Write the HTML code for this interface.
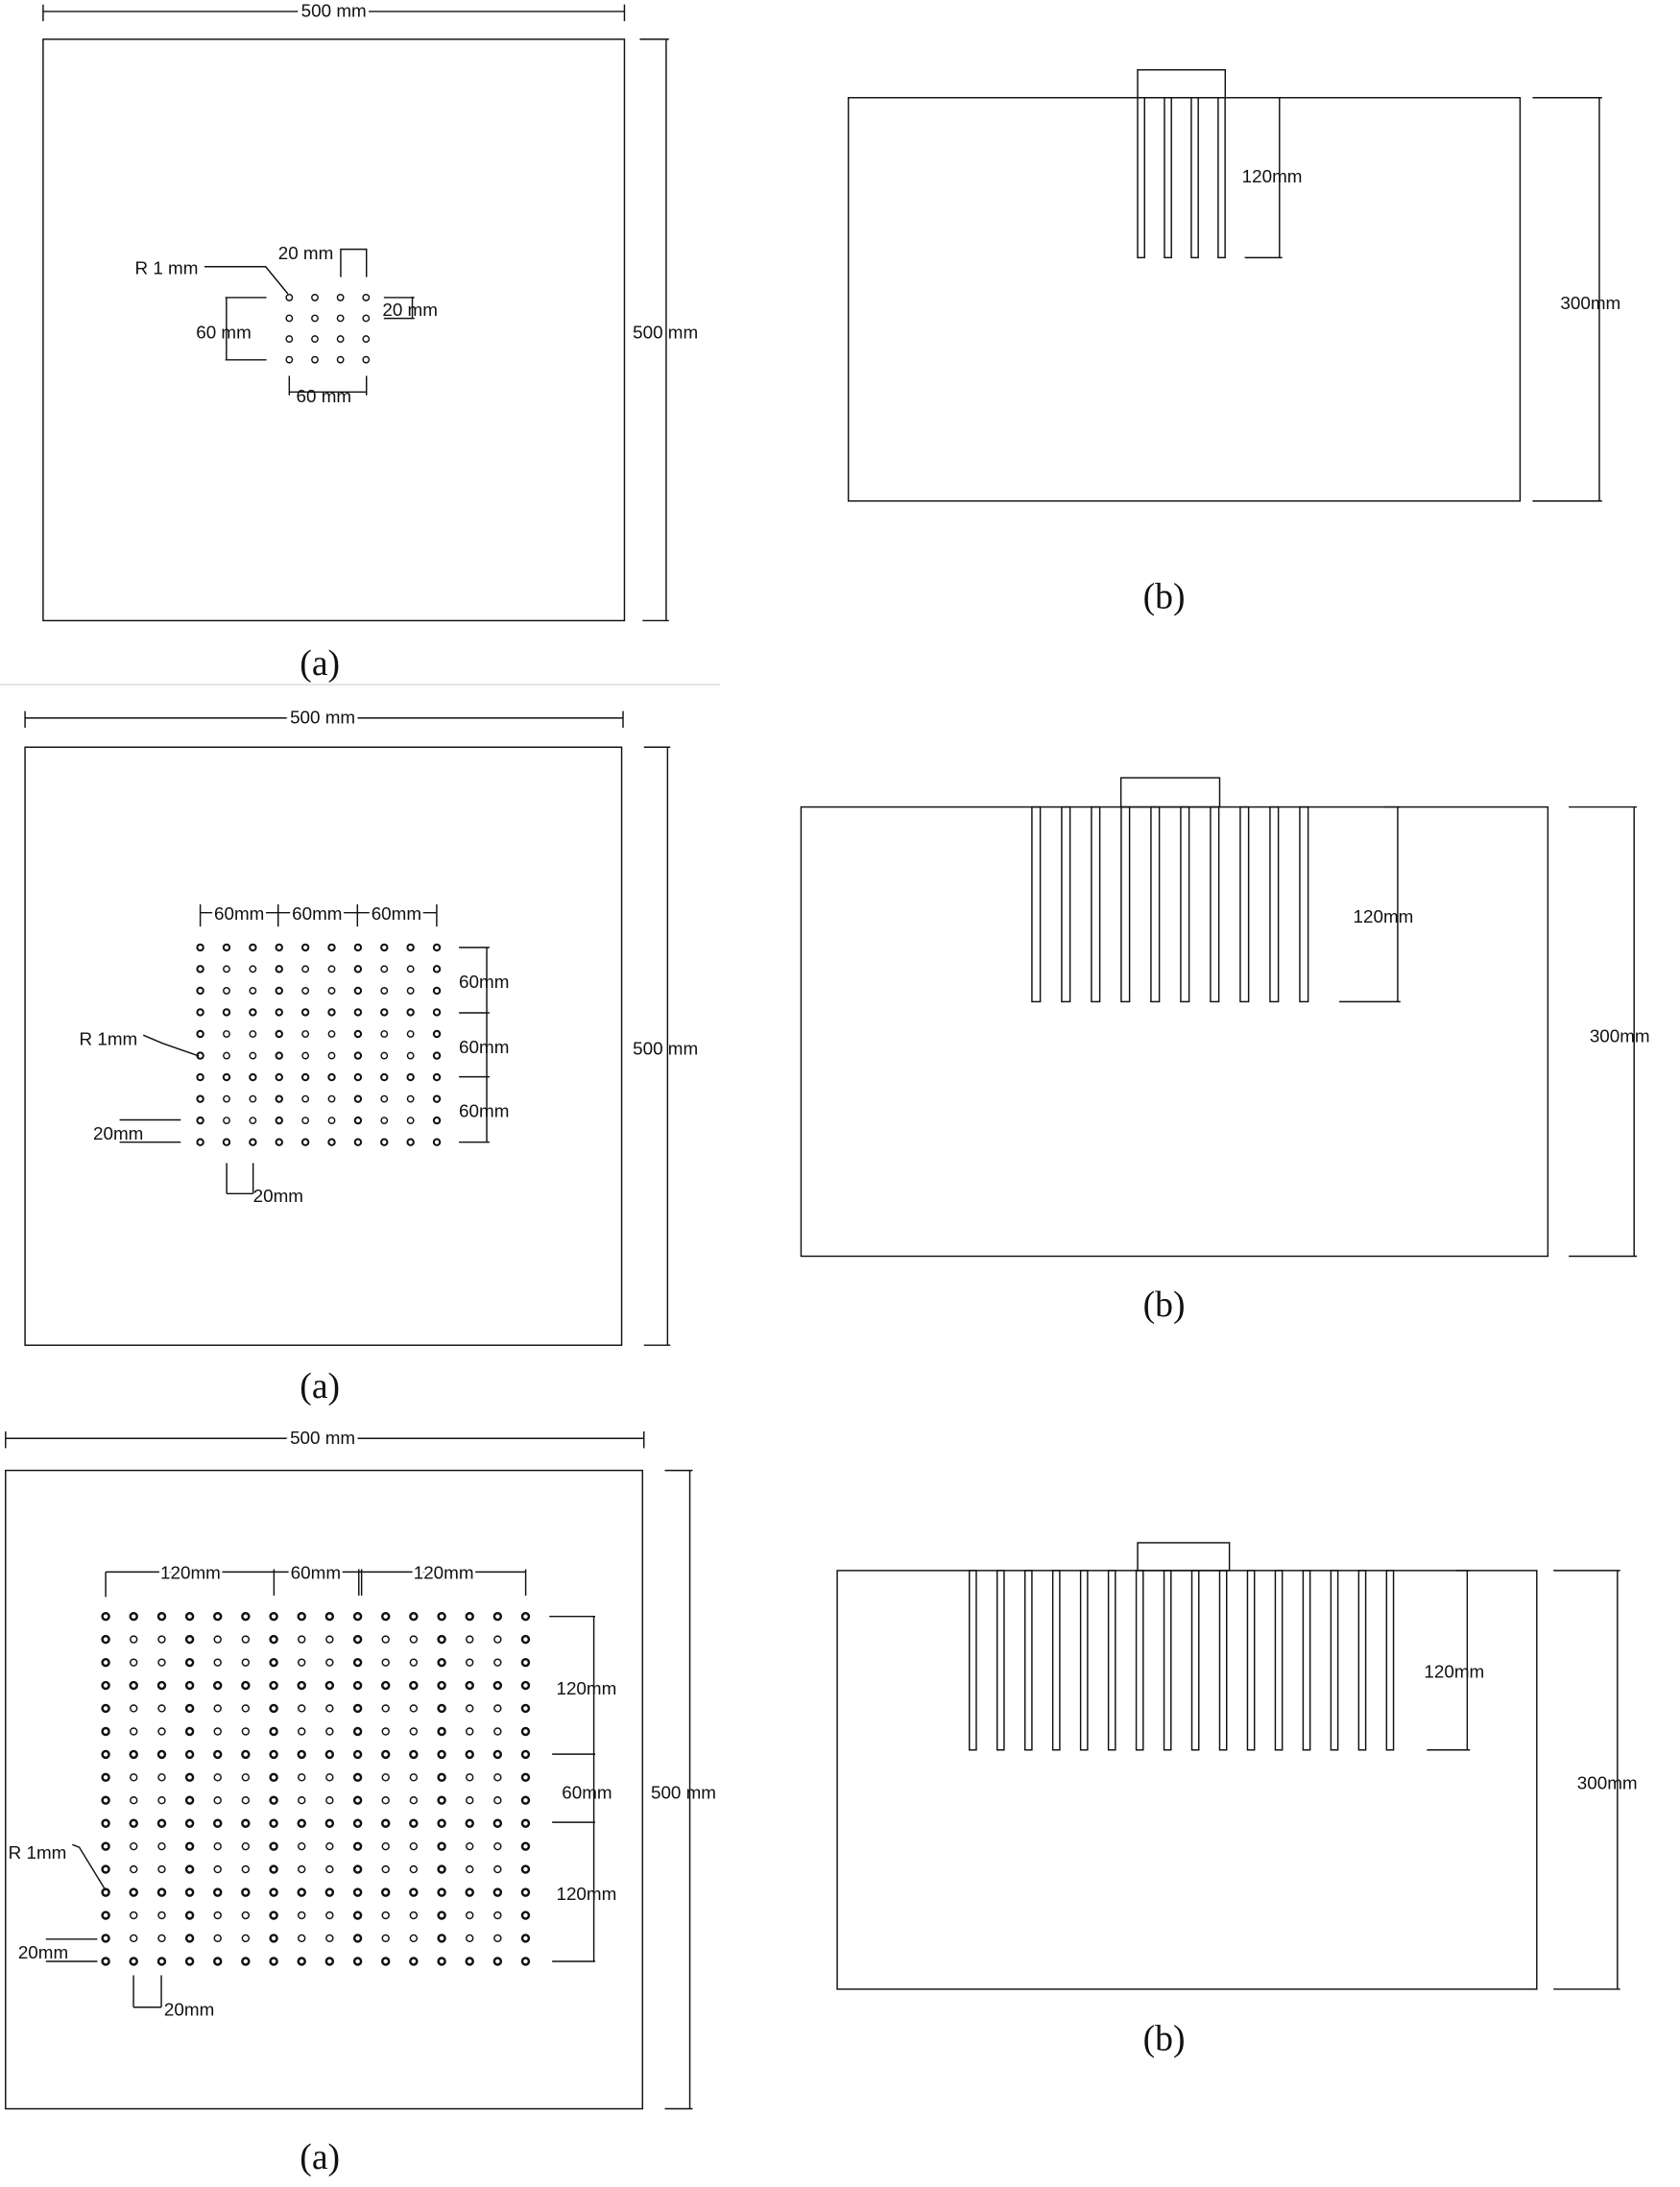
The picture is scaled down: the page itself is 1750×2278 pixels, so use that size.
<!DOCTYPE html>
<html><head><meta charset="utf-8"><style>
html,body{margin:0;padding:0;background:#fff;}
svg{display:block;}
text{font-family:"Liberation Sans",Arial,sans-serif;font-size:13px;fill:#111;}
.cap{font-family:"Liberation Serif",serif;font-size:26px;}
</style></head><body>
<svg id="s" width="1750" height="2278" viewBox="0 0 1208 1572" xmlns="http://www.w3.org/2000/svg">
<g stroke="#111" stroke-width="1" fill="none">
<!-- Panel 1a -->
<line x1="31" y1="8" x2="449" y2="8"/><line x1="31" y1="3" x2="31" y2="15"/><line x1="449" y1="3" x2="449" y2="15"/>
<rect x="31" y="28" width="418" height="418"/>
<line x1="479" y1="28" x2="479" y2="446"/><line x1="460" y1="28" x2="481" y2="28"/><line x1="462" y1="446" x2="481" y2="446"/>
<polyline points="147,191.5 191,191.5 207,211"/>
<polyline points="245,199 245,179 263.5,179 263.5,199"/>
<line x1="276" y1="213.7" x2="298" y2="213.7"/><line x1="276" y1="228.7" x2="298" y2="228.7"/><line x1="296.5" y1="213" x2="296.5" y2="229"/>
<line x1="162.8" y1="213.7" x2="162.8" y2="258.5"/><line x1="162" y1="213.7" x2="191.6" y2="213.7"/><line x1="162" y1="258.5" x2="191.6" y2="258.5"/>
<line x1="208" y1="270" x2="208" y2="284"/><line x1="263.5" y1="270" x2="263.5" y2="284"/><line x1="208" y1="281.6" x2="263.5" y2="281.6"/>
<!-- Panel 1b -->
<rect x="610" y="70" width="483" height="290"/>
<rect x="818" y="50" width="63" height="20"/>
<line x1="920" y1="70" x2="920" y2="185"/><line x1="895" y1="185" x2="922" y2="185"/><line x1="912" y1="70" x2="922" y2="70"/>
<line x1="1150" y1="70" x2="1150" y2="360"/><line x1="1102" y1="70" x2="1152" y2="70"/><line x1="1102" y1="360" x2="1152" y2="360"/>
<!-- Panel 2a -->
<line x1="0" y1="492" x2="518" y2="492" stroke="#ddd"/>
<line x1="18" y1="516" x2="448" y2="516"/><line x1="18" y1="511" x2="18" y2="523"/><line x1="448" y1="511" x2="448" y2="523"/>
<rect x="18" y="537" width="429" height="430"/>
<line x1="480" y1="537" x2="480" y2="967"/><line x1="463" y1="537" x2="482" y2="537"/><line x1="463" y1="967" x2="482" y2="967"/>
<line x1="144" y1="656" x2="314" y2="656"/>
<line x1="144" y1="650" x2="144" y2="666"/><line x1="200" y1="650" x2="200" y2="666"/><line x1="257" y1="650" x2="257" y2="666"/><line x1="314" y1="650" x2="314" y2="666"/>
<line x1="350" y1="681" x2="350" y2="821"/>
<line x1="330" y1="681" x2="352" y2="681"/><line x1="330" y1="728" x2="352" y2="728"/><line x1="330" y1="774" x2="352" y2="774"/><line x1="330" y1="821" x2="352" y2="821"/>
<polyline points="103,744 117,750 143,759"/>
<line x1="86" y1="805" x2="130" y2="805"/><line x1="86" y1="821" x2="130" y2="821"/>
<line x1="163" y1="836" x2="163" y2="858"/><line x1="182" y1="836" x2="182" y2="858"/><line x1="163" y1="858" x2="182" y2="858"/>
<!-- Panel 2b -->
<rect x="576" y="580" width="537" height="323"/>
<rect x="806" y="559" width="71" height="21"/>
<line x1="1005" y1="580" x2="1005" y2="720"/><line x1="963" y1="720" x2="1007" y2="720"/><line x1="995" y1="580" x2="1007" y2="580"/>
<line x1="1175" y1="580" x2="1175" y2="903"/><line x1="1128" y1="580" x2="1177" y2="580"/><line x1="1128" y1="903" x2="1177" y2="903"/>
<!-- Panel 3a -->
<line x1="4" y1="1034" x2="463" y2="1034"/><line x1="4" y1="1029" x2="4" y2="1041"/><line x1="463" y1="1029" x2="463" y2="1041"/>
<rect x="4" y="1057" width="458" height="459"/>
<line x1="496" y1="1057" x2="496" y2="1516"/><line x1="478" y1="1057" x2="498" y2="1057"/><line x1="478" y1="1516" x2="498" y2="1516"/>
<line x1="76" y1="1130" x2="378" y2="1130"/>
<line x1="76" y1="1130" x2="76" y2="1148"/><line x1="197" y1="1128" x2="197" y2="1147"/><line x1="258" y1="1128" x2="258" y2="1147"/><line x1="260" y1="1128" x2="260" y2="1147"/><line x1="378" y1="1128" x2="378" y2="1147"/>
<line x1="427" y1="1162" x2="427" y2="1410"/>
<line x1="395" y1="1162" x2="428" y2="1162"/><line x1="397" y1="1261" x2="428" y2="1261"/><line x1="397" y1="1310" x2="428" y2="1310"/><line x1="397" y1="1410" x2="428" y2="1410"/>
<polyline points="52,1326 57,1328 76,1359"/>
<line x1="33" y1="1394" x2="70" y2="1394"/><line x1="33" y1="1410" x2="70" y2="1410"/>
<line x1="96" y1="1420" x2="96" y2="1443"/><line x1="116" y1="1420" x2="116" y2="1443"/><line x1="96" y1="1443" x2="116" y2="1443"/>
<!-- Panel 3b -->
<rect x="602" y="1129" width="503" height="301"/>
<rect x="818" y="1109" width="66" height="20"/>
<line x1="1055" y1="1129" x2="1055" y2="1258"/><line x1="1026" y1="1258" x2="1057" y2="1258"/><line x1="1047" y1="1129" x2="1057" y2="1129"/>
<line x1="1163" y1="1129" x2="1163" y2="1430"/><line x1="1117" y1="1129" x2="1165" y2="1129"/><line x1="1117" y1="1430" x2="1165" y2="1430"/>
<g id="dyn"></g>
</g>
<g>
<text x="240" y="12" text-anchor="middle" style="paint-order:stroke" stroke="#fff" stroke-width="5">500 mm</text>
<text x="455" y="243">500 mm</text>
<text class="cap" x="230" y="485" text-anchor="middle">(a)</text>
<text x="97" y="197">R 1 mm</text>
<text x="200" y="186">20 mm</text>
<text x="275" y="227">20 mm</text>
<text x="141" y="243">60 mm</text>
<text x="213" y="289">60 mm</text>
<text x="893" y="131">120mm</text>
<text x="1122" y="222">300mm</text>
<text class="cap" x="837" y="437" text-anchor="middle">(b)</text>

<text x="232" y="520" text-anchor="middle" style="paint-order:stroke" stroke="#fff" stroke-width="5">500 mm</text>
<text x="455" y="758">500 mm</text>
<text class="cap" x="230" y="1005" text-anchor="middle">(a)</text>
<g style="paint-order:stroke" stroke="#fff" stroke-width="4">
<text x="172" y="661" text-anchor="middle">60mm</text>
<text x="228" y="661" text-anchor="middle">60mm</text>
<text x="285" y="661" text-anchor="middle">60mm</text>
</g>
<text x="330" y="710">60mm</text>
<text x="330" y="757">60mm</text>
<text x="330" y="803">60mm</text>
<text x="57" y="751">R 1mm</text>
<text x="67" y="819">20mm</text>
<text x="182" y="864">20mm</text>
<text x="973" y="663">120mm</text>
<text x="1143" y="749">300mm</text>
<text class="cap" x="837" y="946" text-anchor="middle">(b)</text>

<text x="232" y="1038" text-anchor="middle" style="paint-order:stroke" stroke="#fff" stroke-width="5">500 mm</text>
<text x="468" y="1293">500 mm</text>
<text class="cap" x="230" y="1559" text-anchor="middle">(a)</text>
<g style="paint-order:stroke" stroke="#fff" stroke-width="4">
<text x="137" y="1135" text-anchor="middle">120mm</text>
<text x="227" y="1135" text-anchor="middle">60mm</text>
<text x="319" y="1135" text-anchor="middle">120mm</text>
</g>
<text x="400" y="1218">120mm</text>
<text x="404" y="1293">60mm</text>
<text x="400" y="1366">120mm</text>
<text x="6" y="1336">R 1mm</text>
<text x="13" y="1408">20mm</text>
<text x="118" y="1449">20mm</text>
<text x="1024" y="1206">120mm</text>
<text x="1134" y="1286">300mm</text>
<text class="cap" x="837" y="1474" text-anchor="middle">(b)</text>
</g>
</svg>
<script>
var g=document.getElementById('dyn'),h='';
function c(x,y,r,w){h+='<circle cx="'+x.toFixed(1)+'" cy="'+y.toFixed(1)+'" r="'+r+'" stroke-width="'+w+'"/>';}
function s(x,y1,y2,w){h+='<rect x="'+x.toFixed(1)+'" y="'+y1+'" width="'+w+'" height="'+(y2-y1)+'"/>';}
for(var i=0;i<4;i++)for(var j=0;j<4;j++)c(208+i*18.4,213.7+j*14.9,2.2,1);
for(i=0;i<10;i++)for(j=0;j<10;j++){var b=(i%3==0||j%3==0);c(144+i*18.9,681+j*15.55,2.2,b?1.4:1);}
for(i=0;i<16;i++)for(j=0;j<16;j++){var b=(i%3==0||j%3==0);c(76+i*20.13,1162+j*16.53,2.4,b?1.7:1);}
for(i=0;i<4;i++)s(818+i*19.3,70,185,5);
for(i=0;i<10;i++)s(742+i*21.4,580,720,6);
for(i=0;i<16;i++)s(697+i*20.0,1129,1258,5);
g.innerHTML=h;
</script>
</body></html>
